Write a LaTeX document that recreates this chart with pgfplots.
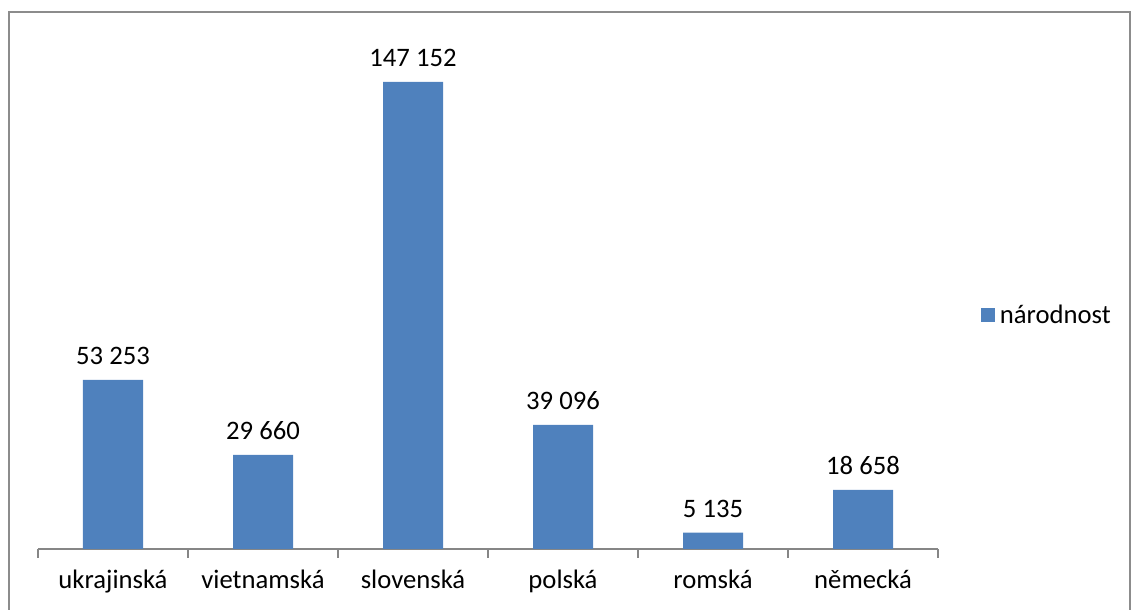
\documentclass[border=0pt]{standalone}
\usepackage{pgfplots}
\pgfplotsset{compat=1.18}
\usepackage{fontspec}
\setmainfont{Carlito}
\definecolor{barblue}{HTML}{4F81BD}
\definecolor{framegray}{HTML}{8C8C8C}
\definecolor{axisgray}{HTML}{868686}
\begin{document}
\begin{tikzpicture}
\begin{axis}[
  scale only axis, width=675pt, height=381pt,
  xmin=-0.5, xmax=5.5, ymin=0, ymax=160000,
  axis y line=none,
  axis x line*=bottom,
  x axis line style={axisgray, line width=0.8pt, -},
  ybar, bar width=45pt,
  xtick={-0.5,0.5,1.5,2.5,3.5,4.5,5.5},
  xticklabels={},
  tick style={axisgray, line width=0.8pt},
  major tick length=6.75pt, tick align=outside,
  extra x ticks={0,1,2,3,4,5},
  extra x tick labels={ukrajinsk\'a, vietnamsk\'a, slovensk\'a, polsk\'a, romsk\'a, n\v{e}meck\'a},
  extra x tick style={major tick length=0pt},
  xticklabel style={font=\fontsize{20}{24}\selectfont, text=black, yshift=-12pt},
  point meta=explicit symbolic,
  nodes near coords,
  every node near coord/.append style={font=\fontsize{20}{24}\selectfont, text=black, yshift=8pt},
  legend style={at={(1.047,0.461)}, anchor=west, draw=none, fill=none, font=\fontsize{20}{24}\selectfont, inner sep=0pt, nodes={inner xsep=4pt}},
  legend image code/.code={\fill[barblue] (0pt,-5.25pt) rectangle (10.5pt,5.25pt);},
  clip=false,
]
\addplot[fill=barblue, draw=none] coordinates {(0,53253) [53 253] (1,29660) [29 660] (2,147152) [147 152] (3,39096) [39 096] (4,5135) [5 135] (5,18658) [18 658]};
\addlegendentry{n\'arodnost}
\draw[framegray, line width=1.1pt] (rel axis cs:-0.0322,-0.2) -- (rel axis cs:-0.0322,1.057) -- (rel axis cs:1.2133,1.057) -- (rel axis cs:1.2133,-0.2);
\coordinate (bbsw) at (rel axis cs:-0.04222,-0.12008);
\coordinate (bbne) at (rel axis cs:1.21444,1.08071);
\end{axis}
\pgfresetboundingbox
\path[use as bounding box] (bbsw) rectangle (bbne);
\end{tikzpicture}
\end{document}
